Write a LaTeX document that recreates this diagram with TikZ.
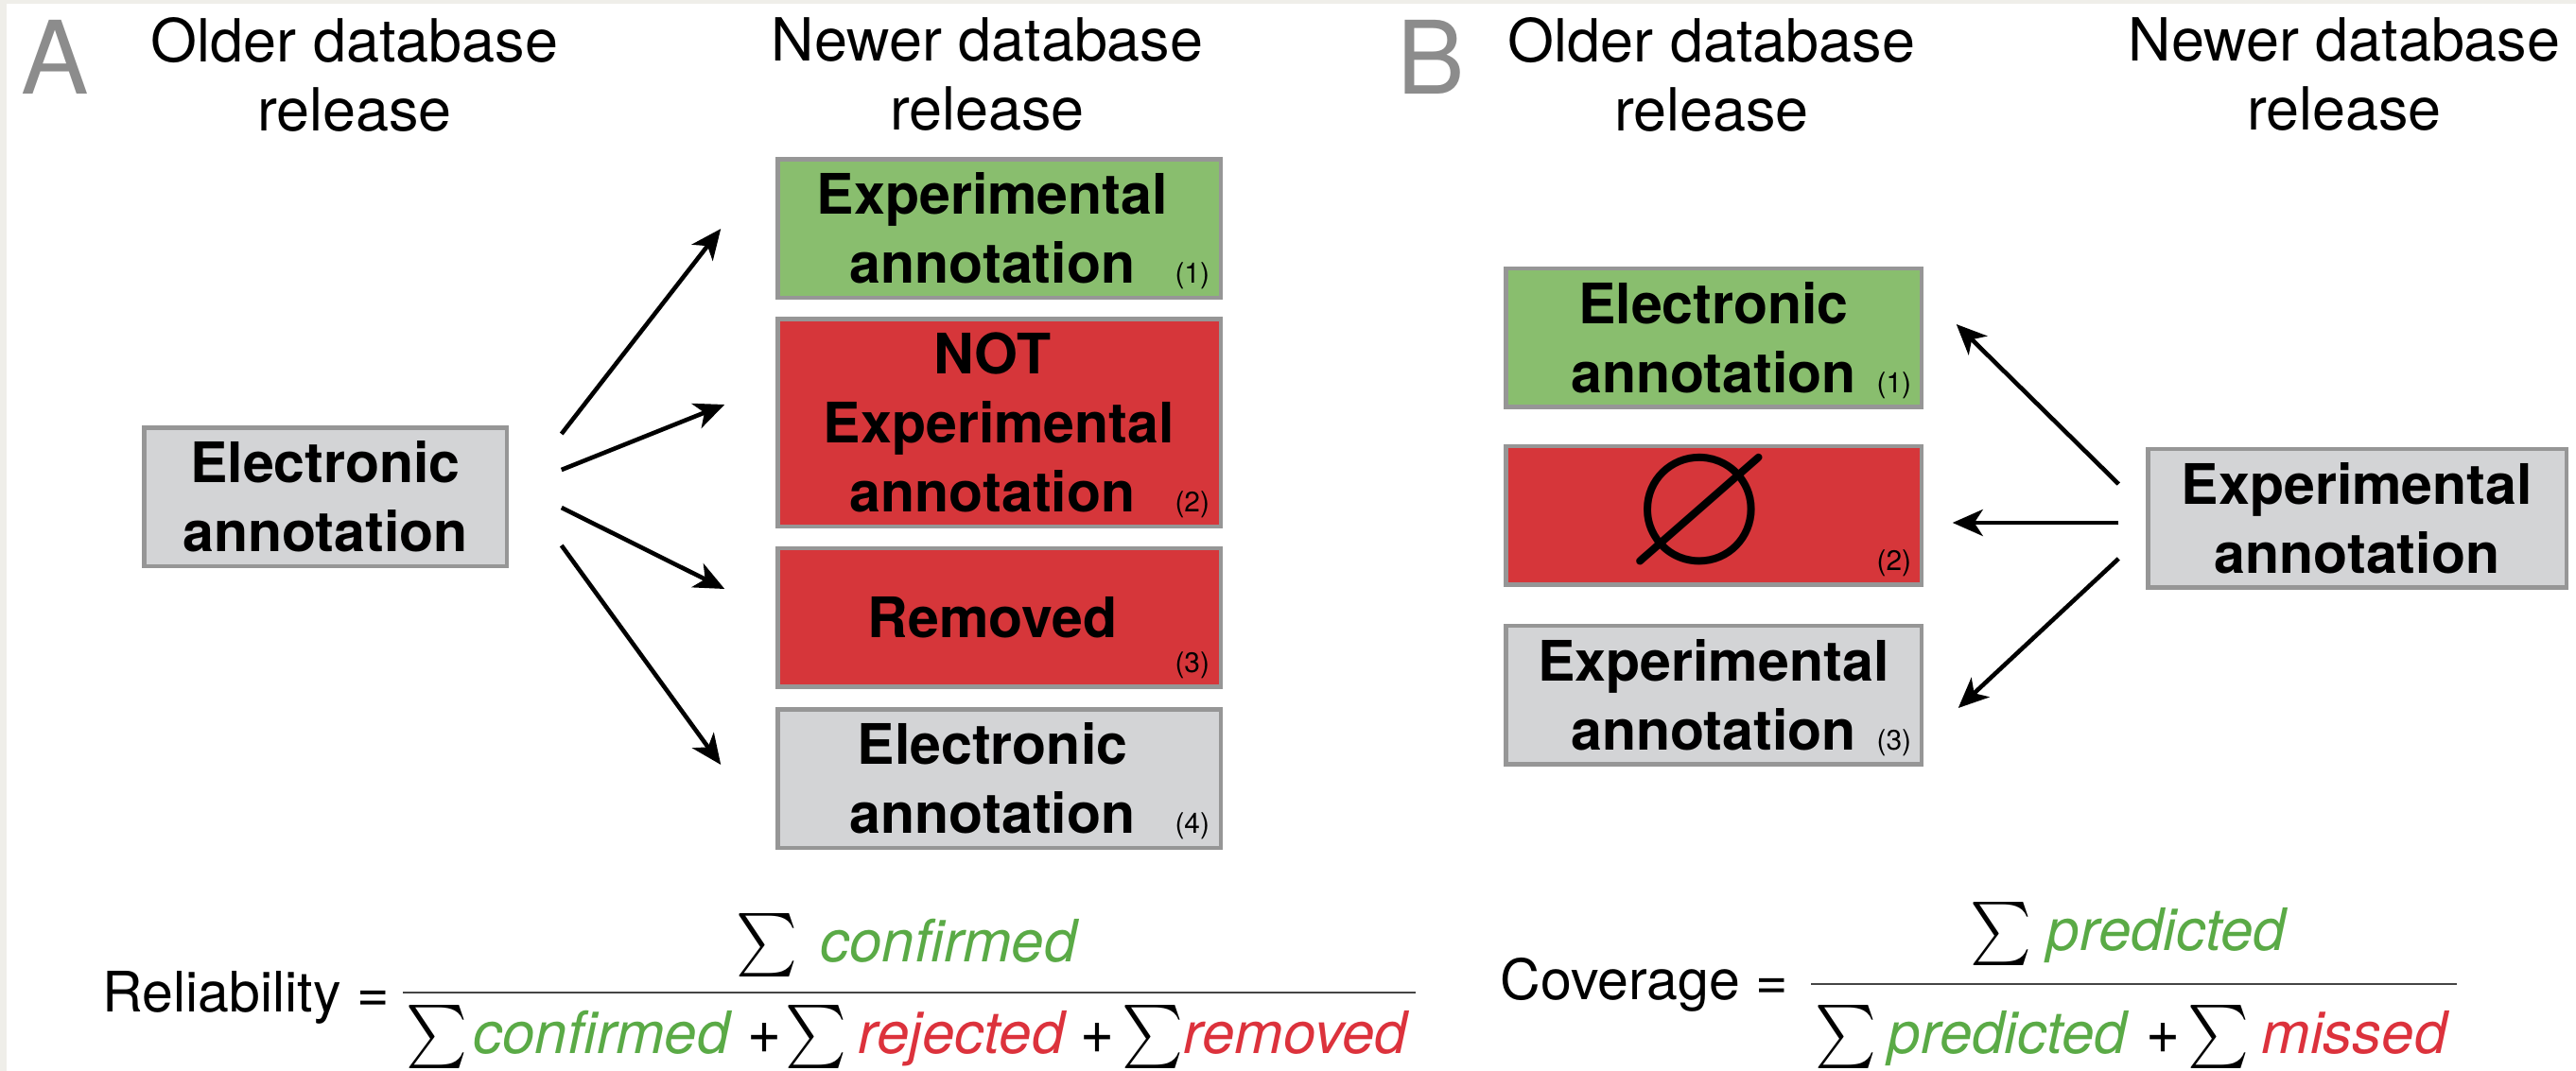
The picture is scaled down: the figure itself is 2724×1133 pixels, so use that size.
\documentclass[tikz,border=0pt]{standalone}
\usepackage{fontspec}
\setmainfont{TeX Gyre Heros}
\usepackage{amssymb}
\usepackage{graphicx}
\usetikzlibrary{arrows.meta,calc}

\definecolor{boxgreen}{HTML}{89BE6E}
\definecolor{boxred}{HTML}{D6363A}
\definecolor{boxgray}{HTML}{D3D4D6}
\definecolor{boxedge}{HTML}{969696}
\definecolor{termgreen}{HTML}{5AAA46}
\definecolor{termred}{HTML}{DC323C}
\definecolor{panelgray}{HTML}{8C8C8C}
\definecolor{framebeige}{HTML}{EFEEE9}
\definecolor{bargray}{HTML}{454545}

\newcommand\hdrfont{\fontsize{17.9}{20.8}\selectfont}
\newcommand\boxfont{\fontsize{16.8}{20.8}\selectfont\bfseries}
\newcommand\numfont{\fontsize{8.5}{10}\selectfont}
\newcommand\panelfont{\fontsize{30.5}{32}\selectfont}
\newcommand\eqfont{\fontsize{16.8}{20}\selectfont}
\newcommand\termfont{\fontsize{17.6}{20}\selectfont\itshape}
% summation sign and plus sign at fixed printed sizes
\newcommand\sumglyph{\resizebox*{6.5mm}{6.7mm}{$\sum$}}
\newcommand\plusglyph{\resizebox{3.6mm}{3.2mm}{+}}

\tikzset{
  annot/.style={draw=boxedge, line width=0.45mm, inner sep=0pt, outer sep=0pt,
    align=center, font=\boxfont, minimum height=14.65mm},
  greenbox/.style={annot, fill=boxgreen},
  redbox/.style={annot, fill=boxred},
  graybox/.style={annot, fill=boxgray},
  header/.style={font=\hdrfont, align=center, anchor=north, inner sep=0pt},
  panel/.style={font=\panelfont, text=panelgray, anchor=base, inner sep=0pt},
  index/.style={font=\numfont, anchor=base east, inner sep=0pt},
  flow/.style={line width=0.46mm, -{Stealth[length=3.2mm,width=2.8mm,inset=0.9mm]}},
  eqlabel/.style={font=\eqfont, anchor=base west, inner sep=0pt},
  term/.style={font=\termfont, anchor=base, inner sep=0pt},
  sumsign/.style={anchor=base, inner sep=0pt},
  plus/.style={font=\eqfont, anchor=base, inner sep=0pt},
  fracbar/.style={draw=bargray, line width=0.28mm},
}

\begin{document}
\begin{tikzpicture}[x=0.1mm, y=-0.1mm]
% page with a thin frame strip at top and left
\fill[framebeige] (0,0) rectangle (2724,1133);
\fill[white] (7,4) rectangle (2724,1133);
\useasboundingbox (0,0) rectangle (2724,1133);

% panel letters
\node[panel] (labA) at (58,99) {A};
\node[panel] (labB) at (1513,99) {B};

% column headers
\node[header] (oldA) at (375,18) {Older database\\release};
\node[header] (newA) at (1044,18) {Newer database\\release};
\node[header] (oldB) at (1810,18) {Older database\\release};
\node[header] (newB) at (2479,18) {Newer database\\release};

% ---------- panel A ----------
\node[graybox, minimum width=38.35mm] (A0) at (344,525.5) {Electronic\\annotation};
\node[greenbox, minimum width=46.85mm] (A1) at (1056.5,241.5) {Experimental\hspace*{1.4mm}\\annotation\hspace*{1.4mm}};
\node[redbox, minimum width=46.85mm, minimum height=21.95mm] (A2) at (1056.5,447) {NOT\hspace*{1.4mm}\\Experimental\hspace*{1.4mm}\\annotation\hspace*{1.4mm}};
\node[redbox, minimum width=46.85mm] (A3) at (1056.5,653) {Removed\hspace*{1.4mm}};
\node[graybox, minimum width=46.85mm] (A4) at (1056.5,823.5) {Electronic\hspace*{1.4mm}\\annotation\hspace*{1.4mm}};

\node[index] (iA1) at ($(A1.south east)+(-11,-15)$) {(1)};
\node[index] (iA2) at ($(A2.south east)+(-11,-15)$) {(2)};
\node[index] (iA3) at ($(A3.south east)+(-11,-15)$) {(3)};
\node[index] (iA4) at ($(A4.south east)+(-11,-15)$) {(4)};

\coordinate (sA1) at ($(A0.east)+(58,-66.5)$);
\coordinate (sA2) at ($(A0.east)+(58,-28.5)$);
\coordinate (sA3) at ($(A0.east)+(58,11.5)$);
\coordinate (sA4) at ($(A0.east)+(58,51.5)$);
\coordinate (eA1) at ($(A1.west)+(-60,0.5)$);
\coordinate (eA2) at ($(A2.west)+(-56,-19)$);
\coordinate (eA3) at ($(A3.west)+(-56,-30)$);
\coordinate (eA4) at ($(A4.west)+(-60,-14.5)$);
\draw[flow] (sA1) -- (eA1);
\draw[flow] (sA2) -- (eA2);
\draw[flow] (sA3) -- (eA3);
\draw[flow] (sA4) -- (eA4);

% ---------- panel B ----------
\node[graybox, minimum width=44.25mm] (B0) at (2492.5,548) {Experimental\\annotation};
\node[greenbox, minimum width=43.95mm] (B1) at (1812,357) {Electronic\\annotation};
\node[redbox, minimum width=43.95mm] (B2) at (1812,545) {};
\node[graybox, minimum width=43.95mm] (B3) at (1812,735) {Experimental\\annotation};

\node[inner sep=0pt] (nullset) at ($(B2.center)+(-15,2)$) {\fontsize{57}{57}\selectfont$\varnothing$};

\node[index] (iB1) at ($(B1.south east)+(-10,-15)$) {(1)};
\node[index] (iB2) at ($(B2.south east)+(-10,-15)$) {(2)};
\node[index] (iB3) at ($(B3.south east)+(-10,-15)$) {(3)};

\coordinate (sB1) at ($(B0.west)+(-31,-36)$);
\coordinate (sB2) at ($(B0.west)+(-31,5)$);
\coordinate (sB3) at ($(B0.west)+(-31,43)$);
\coordinate (eB1) at ($(B1.east)+(37,-14)$);
\coordinate (eB2) at ($(B2.east)+(33,8)$);
\coordinate (eB3) at ($(B3.east)+(39,14)$);
\draw[flow] (sB1) -- (eB1);
\draw[flow] (sB2) -- (eB2);
\draw[flow] (sB3) -- (eB3);

% ---------- reliability formula ----------
\node[eqlabel] (relL) at (108,1070) {Reliability =};
\coordinate (barAl) at (426,1050);
\coordinate (barAr) at (1497,1050);
\draw[fracbar] (barAl) -- (barAr);
\node[sumsign] (rn0) at (811,1017) {\sumglyph};
\node[term, text=termgreen] (rn1) at (1003,1017) {confirmed};
\node[sumsign] (rd0) at (462,1114) {\sumglyph};
\node[term, text=termgreen] (rd1) at (636,1114) {confirmed};
\node[plus] (rd2) at (808,1114) {\plusglyph};
\node[sumsign] (rd3) at (863,1114) {\sumglyph};
\node[term, text=termred] (rd4) at (1016.5,1114) {rejected};
\node[plus] (rd5) at (1160.5,1114) {\plusglyph};
\node[sumsign] (rd6) at (1218.5,1114) {\sumglyph};
\node[term, text=termred] (rd7) at (1370,1114) {removed};

% ---------- coverage formula ----------
\node[eqlabel] (covL) at (1586,1057) {Coverage =};
\coordinate (barBl) at (1915,1041);
\coordinate (barBr) at (2598,1041);
\draw[fracbar] (barBl) -- (barBr);
\node[sumsign] (cn0) at (2116,1005) {\sumglyph};
\node[term, text=termgreen] (cn1) at (2291,1005) {predicted};
\node[sumsign] (cd0) at (1952,1114) {\sumglyph};
\node[term, text=termgreen] (cd1) at (2123,1114) {predicted};
\node[plus] (cd2) at (2287,1114) {\plusglyph};
\node[sumsign] (cd3) at (2345.5,1114) {\sumglyph};
\node[term, text=termred] (cd4) at (2489.5,1114) {missed};
\end{tikzpicture}
\end{document}
